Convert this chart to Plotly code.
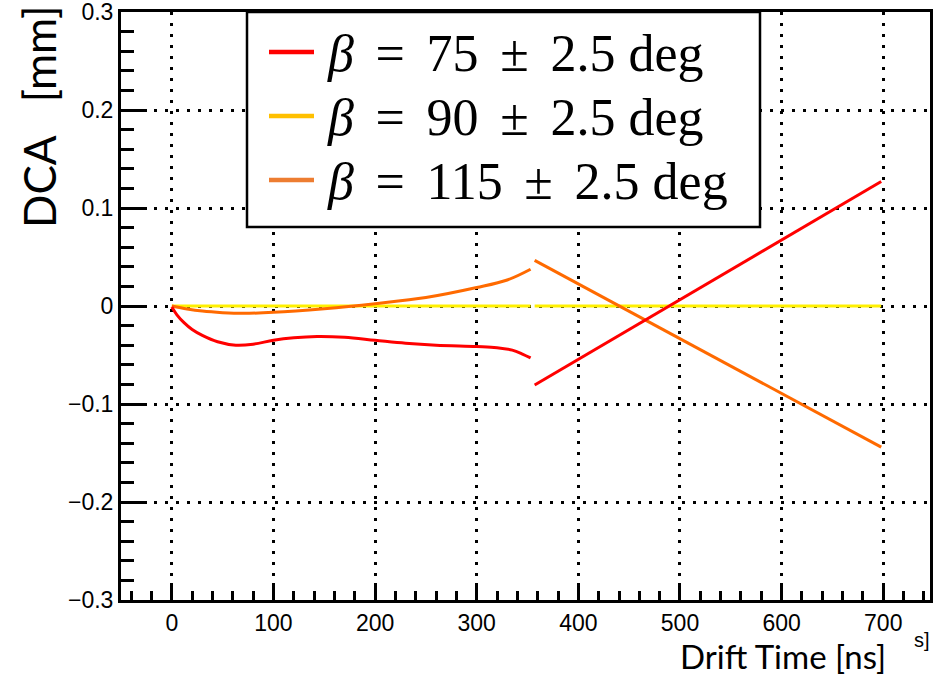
import plotly.graph_objects as go

# ---------------- data ----------------
red_curve_x = [0, 5, 12, 20, 30, 45, 63, 80, 100, 120, 143, 170, 200, 230, 260, 300, 320, 335, 345, 353]
red_curve_y = [-0.001, -0.009, -0.017, -0.024, -0.030, -0.0365, -0.0400, -0.0390, -0.0350, -0.0325,
               -0.0312, -0.0320, -0.0350, -0.0380, -0.0400, -0.0414, -0.0425, -0.0450, -0.0490, -0.0530]
red_line_x = [357, 698]
red_line_y = [-0.0806, 0.127]

orange_curve_x = [0, 15, 30, 50, 70, 100, 150, 200, 250, 300, 330, 353]
orange_curve_y = [0.0, -0.0030, -0.0052, -0.0068, -0.0075, -0.0065, -0.0027, 0.0024, 0.0086, 0.0188, 0.0265, 0.0375]
orange_line_x = [357, 698]
orange_line_y = [0.0466, -0.144]

yellow_x = [0, 353, None, 357, 698]
yellow_y = [0, 0, None, 0, 0]

SP = "\u2004\u200A"
legend_labels = ["<i>β</i>" + SP + "=" + SP + "75" + SP + "±" + SP + "2.5 deg",
                 "<i>β</i>" + SP + "=" + SP + "90" + SP + "±" + SP + "2.5 deg",
                 "<i>β</i>" + SP + "=" + SP + "115" + SP + "±" + SP + "2.5 deg"]
legend_colors = ["#FF0000", "#FFC000", "#ED7D31"]

x_range = [-50, 746]
y_range = [-0.3, 0.3000001]

# ---------------- layout geometry ----------------
W, H = 933, 675
L, R, T, B = 121, 3, 12, 75
PW, PH = W - L - R, H - T - B


def pxx(p):
    return (p - L) / PW


def pxy(p):
    return (H - B - p) / PH


RED, YEL, ORA = "#FF0000", "#FFF000", "#FF6A00"

fig = go.Figure()
fig.add_trace(go.Scatter(x=yellow_x, y=yellow_y, mode="lines", line=dict(color=YEL, width=3),
                         showlegend=False, hoverinfo="skip"))
fig.add_trace(go.Scatter(x=orange_curve_x, y=orange_curve_y, mode="lines",
                         line=dict(color=ORA, width=3, shape="spline", smoothing=1.0), showlegend=False))
fig.add_trace(go.Scatter(x=orange_line_x, y=orange_line_y, mode="lines",
                         line=dict(color=ORA, width=3), showlegend=False))
fig.add_trace(go.Scatter(x=red_curve_x, y=red_curve_y, mode="lines",
                         line=dict(color=RED, width=3, shape="spline", smoothing=1.0), showlegend=False))
fig.add_trace(go.Scatter(x=red_line_x, y=red_line_y, mode="lines",
                         line=dict(color=RED, width=3), showlegend=False))

tickfont = dict(family="Liberation Sans, Arial, sans-serif", size=23, color="black")

fig.update_xaxes(range=x_range, tick0=0, dtick=100, ticks="inside", ticklen=17, tickwidth=3,
                 tickcolor="black", showline=True, linewidth=3, linecolor="black", mirror=True,
                 showgrid=True, gridcolor="black", gridwidth=2.5, griddash="3px,8px",
                 zeroline=False, tickfont=tickfont, ticklabeloverflow="allow", automargin=False,
                 minor=dict(dtick=20, tick0=0, ticks="inside", ticklen=9, tickwidth=2.5,
                            tickcolor="black", showgrid=False))
fig.update_yaxes(range=y_range, tick0=0, dtick=0.1, ticks="inside", ticklen=26, tickwidth=3,
                 tickcolor="black", showline=True, linewidth=3, linecolor="black", mirror=True,
                 showgrid=True, gridcolor="black", gridwidth=2.5, griddash="3px,8px",
                 zeroline=False, tickfont=tickfont, ticklabeloverflow="allow", automargin=False,
                 minor=dict(dtick=0.02, tick0=0, ticks="inside", ticklen=13, tickwidth=2.5,
                            tickcolor="black", showgrid=False))

shapes = [dict(type="rect", xref="paper", yref="paper", x0=pxx(247), x1=pxx(760), y0=pxy(227), y1=pxy(12),
               fillcolor="white", line=dict(color="black", width=2.5), layer="above")]
annotations = []
rows_y = [52, 116, 180]
for lab, col, ry in zip(legend_labels, legend_colors, rows_y):
    shapes.append(dict(type="line", xref="paper", yref="paper", x0=pxx(269), x1=pxx(314),
                       y0=pxy(ry), y1=pxy(ry), line=dict(color=col, width=4.5), layer="above"))
    annotations.append(dict(text=lab, xref="paper", yref="paper", x=pxx(325), y=pxy(ry + 1),
                            xanchor="left", yanchor="middle", showarrow=False,
                            font=dict(family="Liberation Serif, serif", size=52, color="black")))

annotations.append(dict(text="DCA\u2002\u2005[mm]", xref="paper", yref="paper", x=pxx(39), y=pxy(117),
                        xanchor="center", yanchor="middle", textangle=-90, showarrow=False,
                        font=dict(family="Lato, sans-serif", size=44, color="black")))
annotations.append(dict(text="Drift Time [ns]", xref="paper", yref="paper", x=pxx(783), y=pxy(656),
                        xanchor="center", yanchor="middle", showarrow=False,
                        font=dict(family="Lato, sans-serif", size=33, color="black")))
annotations.append(dict(text="s]", xref="paper", yref="paper", x=pxx(932), y=pxy(640),
                        xanchor="right", yanchor="middle", showarrow=False,
                        font=dict(family="Liberation Sans, sans-serif", size=20, color="black")))

fig.update_layout(width=W, height=H, margin=dict(l=L, r=R, t=T, b=B, pad=0, autoexpand=False),
                  paper_bgcolor="white", plot_bgcolor="white", showlegend=False,
                  shapes=shapes, annotations=annotations)

fig.write_html("out.html")
